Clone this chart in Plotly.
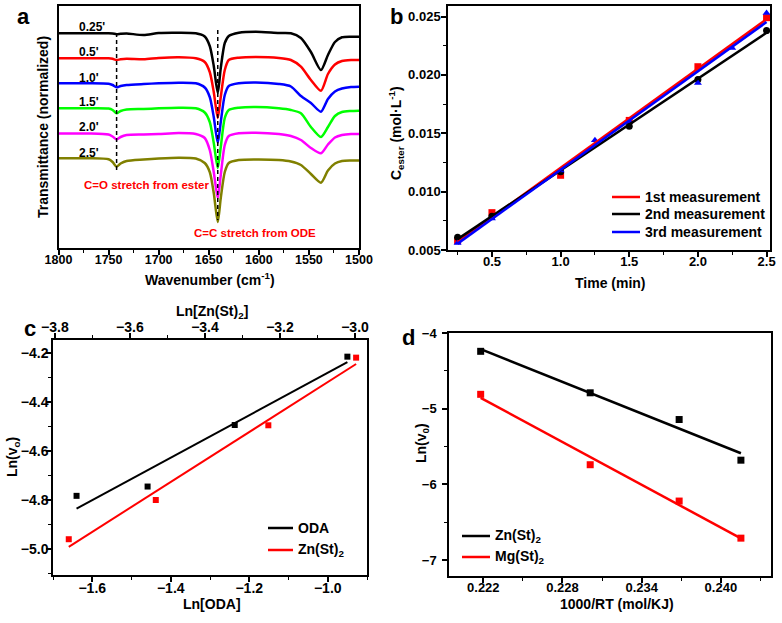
import numpy as np
import plotly.graph_objects as go

W, H = 782, 623
FONT = "Liberation Sans, Arial"

# ---------------- panel a : FTIR spectra (stacked, normalized) ----------------
wavenumber = [1800, 1770, 1750, 1746, 1742, 1738, 1732, 1715, 1700, 1680,
              1663, 1654, 1649, 1645, 1641, 1638, 1634, 1630, 1620, 1603,
              1580, 1568, 1558, 1548, 1538, 1531, 1524, 1517, 1508, 1500]
spec_labels = ["0.25'", "0.5'", "1.0'", "1.5'", "2.0'", "2.5'"]
spec_025 = [2.167, 2.167, 2.167, 2.165, 2.158, 2.162, 2.165, 2.150, 2.170, 2.173,
            2.167, 2.135, 2.040, 1.840, 1.570, 1.820, 2.070, 2.140, 2.173, 2.183,
            2.170, 2.167, 2.120, 1.980, 1.800, 1.950, 2.080, 2.127, 2.133, 2.133]
spec_05 = [1.917, 1.917, 1.917, 1.912, 1.900, 1.907, 1.912, 1.907, 1.920, 1.927,
           1.917, 1.880, 1.780, 1.580, 1.320, 1.530, 1.800, 1.900, 1.923, 1.930,
           1.920, 1.900, 1.833, 1.700, 1.593, 1.760, 1.855, 1.890, 1.900, 1.900]
spec_10 = [1.667, 1.667, 1.662, 1.650, 1.627, 1.640, 1.650, 1.660, 1.667, 1.673,
           1.667, 1.625, 1.530, 1.330, 1.070, 1.280, 1.550, 1.640, 1.667, 1.675,
           1.660, 1.635, 1.540, 1.470, 1.383, 1.510, 1.585, 1.615, 1.630, 1.633]
spec_15 = [1.417, 1.417, 1.414, 1.400, 1.367, 1.390, 1.405, 1.410, 1.417, 1.423,
           1.417, 1.375, 1.280, 1.070, 0.820, 1.030, 1.320, 1.400, 1.423, 1.430,
           1.417, 1.400, 1.367, 1.230, 1.130, 1.230, 1.340, 1.380, 1.390, 1.393]
spec_20 = [1.165, 1.165, 1.155, 1.135, 1.105, 1.130, 1.150, 1.155, 1.160, 1.170,
           1.160, 1.120, 1.000, 0.780, 0.520, 0.750, 1.050, 1.140, 1.167, 1.173,
           1.160, 1.140, 1.100, 1.020, 0.967, 1.055, 1.125, 1.150, 1.160, 1.160]
spec_25 = [0.917, 0.917, 0.907, 0.880, 0.833, 0.865, 0.890, 0.905, 0.915, 0.923,
           0.915, 0.870, 0.780, 0.570, 0.280, 0.520, 0.780, 0.870, 0.900, 0.905,
           0.900, 0.885, 0.850, 0.760, 0.673, 0.795, 0.865, 0.890, 0.895, 0.895]
spec_colors = ["#000000", "#ff0000", "#0000ff", "#00ff00", "#ff00ff", "#808000"]
ester_wn, ode_wn = 1742, 1641

# ---------------- panel b : ester concentration vs time ----------------
t_1st = [0.25, 0.5, 1.0, 1.5, 2.0, 2.5]
c_1st = [0.0058, 0.0082, 0.0114, 0.0161, 0.0207, 0.0249]
t_2nd = [0.25, 0.5, 1.0, 1.5, 2.0, 2.5]
c_2nd = [0.0061, 0.0079, 0.0117, 0.0156, 0.0196, 0.0238]
t_3rd = [0.25, 0.5, 1.0, 1.25, 1.5, 2.0, 2.25, 2.5]
c_3rd = [0.0056, 0.0077, 0.0118, 0.0144, 0.0160, 0.0193, 0.0223, 0.0253]
b_names = ["1st measurement", "2nd measurement", "3rd measurement"]

# ---------------- panel c : reaction order ----------------
ln_oda = [-1.640, -1.459, -1.237, -0.950]
lnv_oda = [-4.782, -4.744, -4.493, -4.214]
ln_znst = [-3.763, -3.531, -3.231, -2.997]
lnv_znst = [-4.959, -4.799, -4.494, -4.218]
c_names = ["ODA", "Zn(St)<sub>2</sub>"]

# ---------------- panel d : Arrhenius ----------------
inv_rt = [0.2218, 0.2301, 0.23684, 0.24152]
lnv_zn = [-4.242, -4.790, -5.143, -5.680]
lnv_mg = [-4.810, -5.740, -6.220, -6.710]
d_names = ["Zn(St)<sub>2</sub>", "Mg(St)<sub>2</sub>"]


def fit_line(x, y):
    k, b = np.polyfit(x, y, 1)
    xs = np.array([min(x), max(x)])
    return xs, k * xs + b


def px(x, y):
    return x / W, 1 - y / H


def axis(dom, rng, size=13, **kw):
    d = dict(domain=dom, range=rng, showline=True, linecolor="black", linewidth=1.5,
             mirror=True, ticks="outside", ticklen=5, tickwidth=1.5, tickcolor="black",
             showgrid=False, zeroline=False, automargin=False,
             tickfont=dict(family=FONT, size=size, color="black", weight="bold"))
    d.update(kw)
    return d


def minor(step):
    return dict(dtick=step, ticks="outside", ticklen=3, tickwidth=1.2, tickcolor="black")


fig = go.Figure()

# panel a
spectra = [spec_025, spec_05, spec_10, spec_15, spec_20, spec_25]
for lab, ys, col in zip(spec_labels, spectra, spec_colors):
    fig.add_trace(go.Scatter(x=wavenumber, y=ys, mode="lines", xaxis="x", yaxis="y",
                             line=dict(color=col, width=2.5, shape="spline", smoothing=0.7),
                             showlegend=False))

# panel b
b_colors = ["#ff0000", "#000000", "#0000ff"]
b_sets = [(t_1st, c_1st, "square"), (t_2nd, c_2nd, "circle"), (t_3rd, c_3rd, "triangle-up")]
for (t, c, sym), col in zip(b_sets, b_colors):
    fig.add_trace(go.Scatter(x=t, y=c, mode="markers", xaxis="x2", yaxis="y2",
                             marker=dict(color=col, symbol=sym, size=7), showlegend=False))
for (t, c, sym), col, name in zip(b_sets, b_colors, b_names):
    xs, ys = fit_line(t, c)
    fig.add_trace(go.Scatter(x=xs, y=ys, mode="lines", xaxis="x2", yaxis="y2", name=name,
                             line=dict(color=col, width=2.5), showlegend=False))

# panel c
fig.add_trace(go.Scatter(x=ln_oda, y=lnv_oda, mode="markers", xaxis="x3", yaxis="y3",
                         marker=dict(color="black", symbol="square", size=6), showlegend=False))
fig.add_trace(go.Scatter(x=ln_znst, y=lnv_znst, mode="markers", xaxis="x5", yaxis="y3",
                         marker=dict(color="#ff0000", symbol="square", size=6), showlegend=False))
xs, ys = fit_line(ln_oda, lnv_oda)
fig.add_trace(go.Scatter(x=xs, y=ys, mode="lines", xaxis="x3", yaxis="y3", name=c_names[0],
                         line=dict(color="black", width=2), showlegend=False))
xs, ys = fit_line(ln_znst, lnv_znst)
fig.add_trace(go.Scatter(x=xs, y=ys, mode="lines", xaxis="x5", yaxis="y3", name=c_names[1],
                         line=dict(color="#ff0000", width=2), showlegend=False))

# panel d
fig.add_trace(go.Scatter(x=inv_rt, y=lnv_zn, mode="markers", xaxis="x4", yaxis="y4",
                         marker=dict(color="black", symbol="square", size=7), showlegend=False))
fig.add_trace(go.Scatter(x=inv_rt, y=lnv_mg, mode="markers", xaxis="x4", yaxis="y4",
                         marker=dict(color="#ff0000", symbol="square", size=7), showlegend=False))
xs, ys = fit_line(inv_rt, lnv_zn)
fig.add_trace(go.Scatter(x=xs, y=ys, mode="lines", xaxis="x4", yaxis="y4", name=d_names[0],
                         line=dict(color="black", width=2.5), showlegend=False))
xs, ys = fit_line(inv_rt, lnv_mg)
fig.add_trace(go.Scatter(x=xs, y=ys, mode="lines", xaxis="x4", yaxis="y4", name=d_names[1],
                         line=dict(color="#ff0000", width=2.5), showlegend=False))

# dashed guide lines in panel a
fig.add_shape(type="line", xref="x", yref="y", x0=ester_wn, x1=ester_wn, y0=2.17, y1=0.80,
              line=dict(color="black", width=1.5, dash="4px,3px"))
fig.add_shape(type="line", xref="x", yref="y", x0=ode_wn, x1=ode_wn, y0=2.20, y1=0.30,
              line=dict(color="black", width=1.5, dash="4px,3px"))

fig.update_layout(
    width=W, height=H, margin=dict(l=0, r=0, t=0, b=0, autoexpand=False),
    paper_bgcolor="white", plot_bgcolor="white", showlegend=False,
    xaxis=axis([58.5 / W, 359 / W], [1800, 1500], size=12.5, anchor="y",
               dtick=50, minor=minor(25), ticklabelstandoff=-6),
    yaxis=axis([1 - 248 / H, 1 - 6 / H], [0.02, 2.44], anchor="x",
               ticks="", showticklabels=False),
    xaxis2=axis([448 / W, 770 / W], [0.18, 2.525], anchor="y2", tick0=0.5, dtick=0.5,
                tickformat=".1f", minor=minor(0.25), ticklabelstandoff=-6),
    yaxis2=axis([1 - 250 / H, 1 - 6 / H], [0.005, 0.0259], anchor="x2", dtick=0.005,
                tickformat=".3f", minor=minor(0.0025), ticklabelstandoff=-2),
    xaxis3=axis([53 / W, 367 / W], [-1.70, -0.90], size=14, anchor="y3", dtick=0.2,
                tickformat=".1f", minor=minor(0.1), ticklabelstandoff=-6),
    xaxis5=axis([53 / W, 367 / W], [-3.805, -2.968], size=14, anchor="y3", overlaying="x3",
                side="top", dtick=0.2, tick0=-3.8, tickformat=".1f", mirror=False,
                minor=minor(0.1), ticklabelstandoff=-4),
    yaxis3=axis([1 - 575 / H, 1 - 340 / H], [-5.105, -4.146], size=14, anchor="x3",
                dtick=0.2, tickformat=".1f", minor=minor(0.1), ticklabelstandoff=-5),
    xaxis4=axis([449 / W, 771 / W], [0.2194, 0.2438], anchor="y4", tick0=0.222,
                dtick=0.006, tickformat=".3f", minor=minor(0.003), ticklabelstandoff=-6),
    yaxis4=axis([1 - 576 / H, 1 - 333 / H], [-7.21, -4.0], anchor="x4", dtick=1,
                minor=minor(0.5), ticklabelstandoff=3),
)

ann = []


def text(x, y, s, size=14, color="black", angle=0, xanchor="center"):
    xx, yy = px(x, y)
    ann.append(dict(x=xx, y=yy, xref="paper", yref="paper", text=s, showarrow=False,
                    textangle=angle, xanchor=xanchor, yanchor="middle",
                    font=dict(family=FONT, size=size, color=color, weight="bold")))


def legend_rows(x0, x1, rows, names, colors, size=14):
    for yy, name, col in zip(rows, names, colors):
        a, b = px(x0, yy)
        c, _ = px(x1, yy)
        fig.add_shape(type="line", xref="paper", yref="paper", x0=a, x1=c, y0=b, y1=b,
                      line=dict(color=col, width=2.5))
        text(x1 + 3, yy, name, size=size, xanchor="left")


# axis titles and panel letters
text(210, 279, "Wavenumber (cm<sup>-1</sup>)")
text(43, 127, "Transmittance (normalized)", angle=-90)
text(610, 283, "Time (min)")
text(396, 133, "C<sub>ester</sub> (mol·L<sup>-1</sup>)", angle=-90)
text(212, 312, "Ln[Zn(St)<sub>2</sub>]")
text(212, 604, "Ln[ODA]")
text(13, 457, "Ln(v<sub>o</sub>)", angle=-90)
text(617, 604, "1000/RT (mol/KJ)")
text(422, 443, "Ln(v<sub>0</sub>)", angle=-90)
text(23, 16, "a", size=22)
text(396, 16, "b", size=22)
text(30, 328, "c", size=22)
text(409, 337, "d", size=22)

# legends drawn as line samples + labels
legend_rows(612, 640, [197, 214, 232], b_names, b_colors)
legend_rows(268, 293, [528, 550], c_names, ["black", "#ff0000"])
legend_rows(462, 490, [536, 557], d_names, ["black", "#ff0000"])

# spectra time labels and band annotations (data coordinates of panel a)
label_y = [2.23, 1.98, 1.72, 1.48, 1.23, 0.97]
for lab, yy in zip(spec_labels, label_y):
    ann.append(dict(x=1782, y=yy, xref="x", yref="y", text=lab, showarrow=False,
                    xanchor="left", yanchor="middle",
                    font=dict(family=FONT, size=12, color="black", weight="bold")))
ann.append(dict(x=1777, y=0.65, xref="x", yref="y", text="C=O stretch from ester",
                showarrow=False, xanchor="left", yanchor="middle",
                font=dict(family=FONT, size=11.5, color="#ff0000", weight="bold")))
ann.append(dict(x=1667, y=0.17, xref="x", yref="y", text="C=C stretch from ODE",
                showarrow=False, xanchor="left", yanchor="middle",
                font=dict(family=FONT, size=11.5, color="#ff0000", weight="bold")))

fig.update_layout(annotations=ann)
fig.write_html("out.html", config={"displayModeBar": False},
               post_script="document.body.style.margin='0';")
